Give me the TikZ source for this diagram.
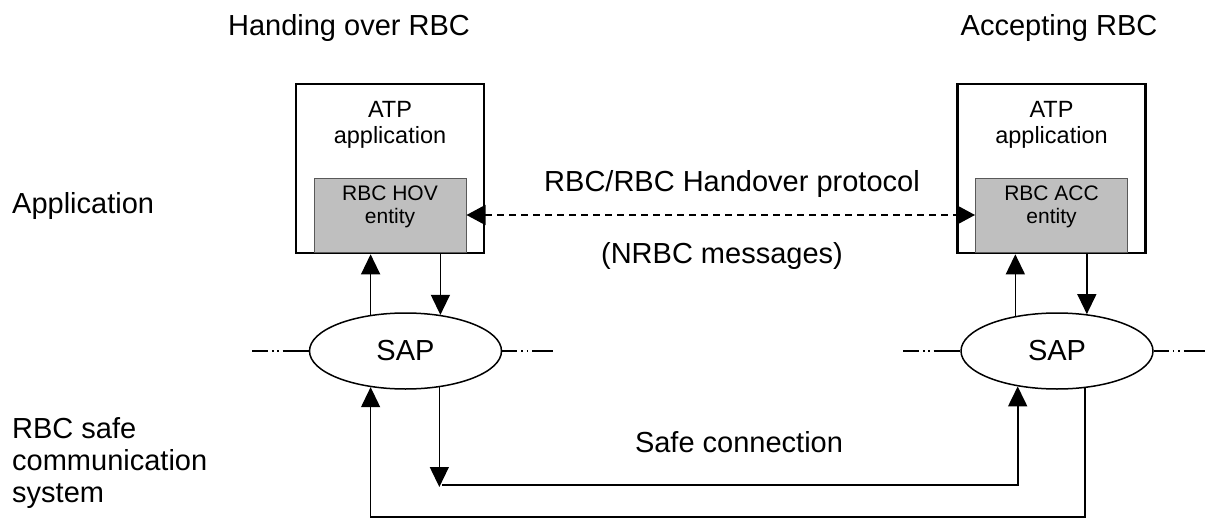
\documentclass[tikz,border=0pt]{standalone}
\usepackage{fontspec}
\setmainfont{Liberation Sans}
\usetikzlibrary{arrows.meta,shapes.geometric}
\tikzset{
  big/.style={font=\fontsize{29}{32}\selectfont, inner sep=0pt, align=left},
  atptext/.style={font=\fontsize{23.5}{26}\selectfont, inner sep=0pt, align=center},
  enttext/.style={font=\fontsize{21}{23}\selectfont, inner sep=0pt, align=center},
  appbox/.style={draw, line width=2.6pt, minimum width=188pt, minimum height=169pt, inner sep=0pt},
  entbox/.style={draw=black!65, fill=black!25, line width=1pt, minimum width=152pt, minimum height=74pt, inner sep=0pt},
  sap/.style={ellipse, draw, line width=1.5pt, minimum width=192pt, minimum height=76pt, inner sep=0pt, font=\fontsize{29}{32}\selectfont},
  arr/.style={line width=1.3pt, -{Triangle[length=20pt,width=19pt]}},
  safeline/.style={line width=1.8pt, -{Triangle[length=20pt,width=19pt]}},
  loopline/.style={line width=1.2pt, -{Triangle[length=20pt,width=19pt]}},
  dashline/.style={line width=1.6pt, dash pattern=on 7pt off 5pt, {Triangle[length=19pt,width=20pt]}-{Triangle[length=19pt,width=20pt]}},
  ddin/.style={line width=1.5pt, dash pattern=on 16pt off 4pt on 1.5pt off 3.5pt on 1.5pt off 4pt on 60pt off 1pt},
  ddout/.style={line width=1.5pt, dash pattern=on 15pt off 4pt on 1.5pt off 4pt on 1.5pt off 4pt on 60pt off 1pt},
}
\begin{document}
\begin{tikzpicture}[x=1pt,y=-1pt]
\useasboundingbox (0,0) rectangle (1207,519);
% headings
\node[big, anchor=base] (hdrL) at (349,36) {Handing over RBC};
\node[big, anchor=base] (hdrR) at (1059,36) {Accepting RBC};
\node[big, anchor=base west] (lapp) at (12,213) {Application};
\node[big, anchor=base west] (lsys) at (12,502) {RBC safe\\communication\\system};
% application boxes
\node[appbox] (boxL) at (390,168.5) {};
\node[appbox] (boxR) at (1051.5,168.5) {};
\node[entbox] (entL) at (390,215) {};
\node[entbox] (entR) at (1051.5,215) {};
\node[atptext, anchor=base] (atpL) at (390,143) {ATP\\application};
\node[atptext, anchor=base] (atpR) at (1051.5,143) {ATP\\application};
\node[enttext, anchor=base] (hovL) at (390,223) {RBC HOV\\entity};
\node[enttext, anchor=base] (accR) at (1051.5,223) {RBC ACC\\entity};
% SAPs
\node[sap] (sapL) at (405.5,351) {SAP};
\node[sap] (sapR) at (1057,351) {SAP};
\coordinate (dLa) at (252,351);
\coordinate (dLb) at (553,351);
\coordinate (dRa) at (903,351);
\coordinate (dRb) at (1205,351);
\draw[ddin] (dLa) -- (sapL.west);
\draw[ddout] (sapL.east) -- (dLb);
\draw[ddin] (dRa) -- (sapR.west);
\draw[ddout] (sapR.east) -- (dRb);
% protocol
\draw[dashline] (entL.east) -- (entR.west);
\node[big, anchor=base] (proto) at (732,191) {RBC/RBC Handover protocol};
\node[big, anchor=base] (nrbc) at (722,263) {(NRBC messages)};
% vertical arrows between SAP and application
\draw[arr] (sapL.134) -- (sapL.134 |- boxL.south);
\draw[arr] (sapL.46 |- boxL.south) -- (sapL.46);
\draw[arr] (sapR.140.5) -- (sapR.140.5 |- boxR.south);
\draw[arr] (sapR.51.7 |- boxR.south) -- (sapR.51.7);
% safe connection
\coordinate (scy) at (700,485);
\coordinate (boty) at (700,517);
\draw[arr] (sapL.313.8) -- ([yshift=-2pt]sapL.313.8 |- scy);
\draw[safeline] ([xshift=3pt]sapL.313.8 |- scy) -- (sapR.222.1 |- scy) -- (sapR.222.1);
\node[big, anchor=base] (safe) at (739,452) {Safe connection};
% outer loop
\draw[loopline] (sapR.307.3) -- (sapR.307.3 |- boty) -- (sapL.226.2 |- boty) -- (sapL.226.2);
\end{tikzpicture}
\end{document}
